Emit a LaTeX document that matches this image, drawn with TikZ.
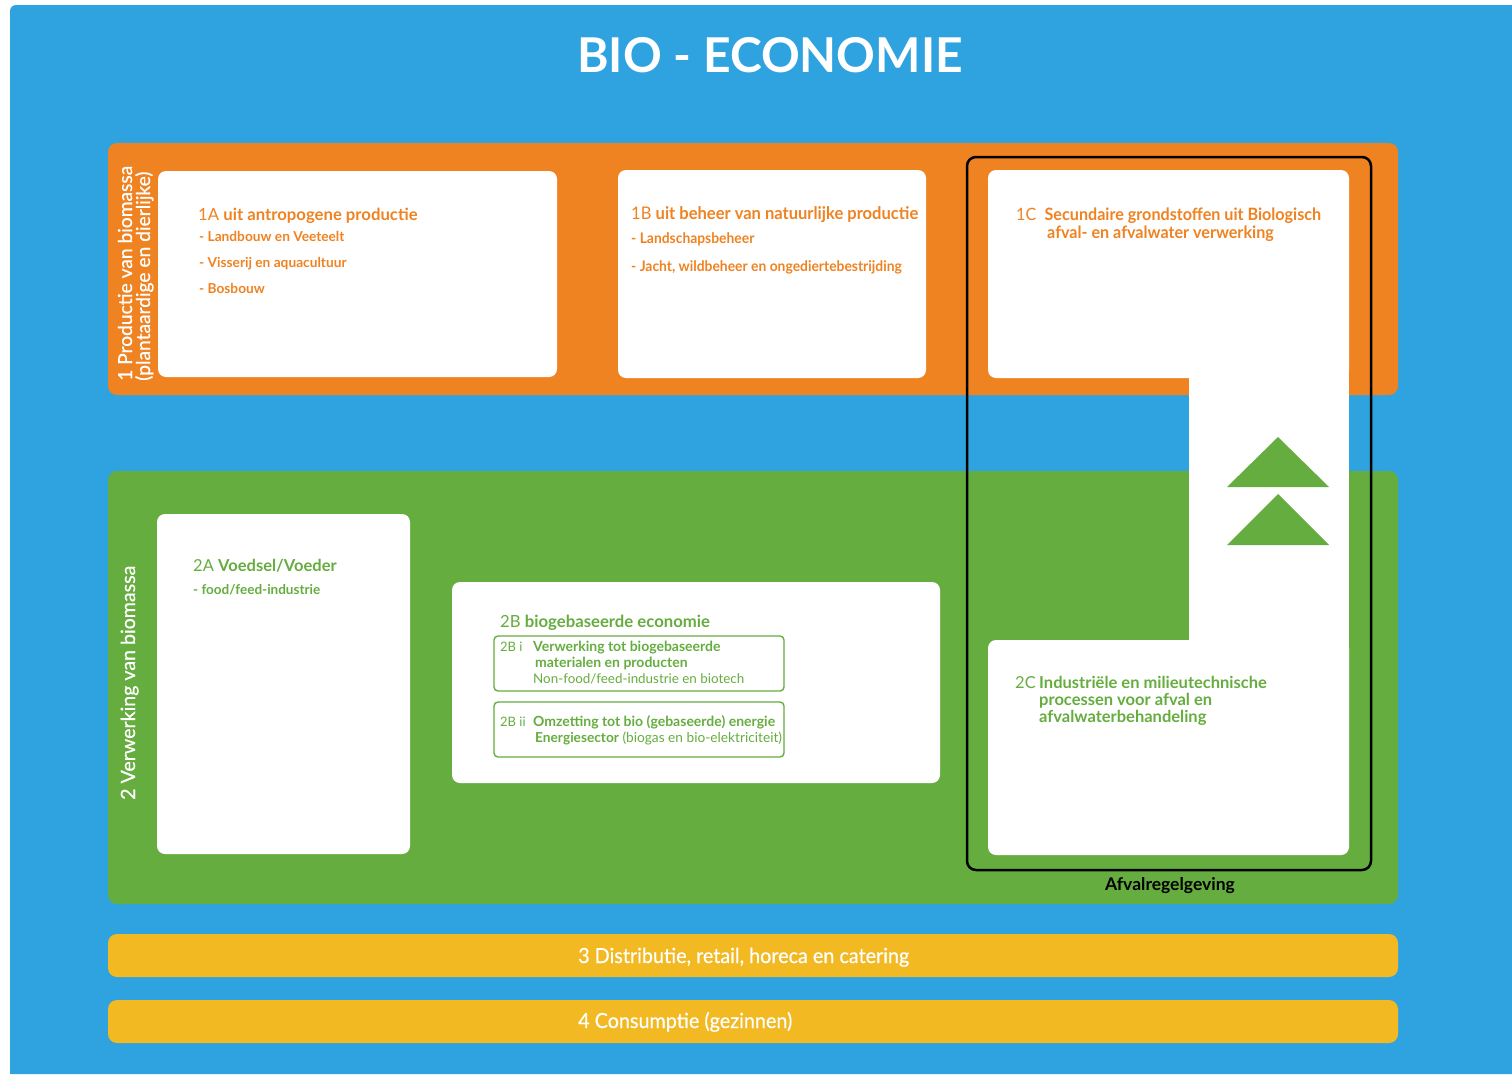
\documentclass[tikz,border=0pt]{standalone}
\usepackage{fontspec}
\setmainfont{Lato}
\newfontfamily\condf[FakeStretch=0.95]{Lato}
\newfontfamily\medf[FakeBold=0.6]{Lato}
\newfontfamily\condmedf[FakeStretch=0.95,FakeBold=0.5]{Lato}
\definecolor{bgblue}{HTML}{2FA3DF}
\definecolor{orng}{HTML}{EF8322}
\definecolor{grn}{HTML}{66AD3F}
\definecolor{ylw}{HTML}{F2B922}
\newcommand\fsz[1]{\fontsize{#1pt}{#1pt}\selectfont}
\tikzset{
  txt/.style={inner sep=0pt, anchor=base west},
  band/.style={rounded corners=9pt},
  whitebox/.style={fill=white, rounded corners=8pt},
  subbox/.style={draw=grn, line width=1.4pt, fill=white, rounded corners=4pt},
  otxt/.style={txt, text=orng},
  gtxt/.style={txt, text=grn},
}
\begin{document}
\begin{tikzpicture}[x=1pt,y=-1pt]
\useasboundingbox (0,0) rectangle (1512,1074);
\fill[white] (0,0) rectangle (1512,1074);
% blue background
\fill[bgblue] (10,1074) [rounded corners=6pt] -- (10,5) [sharp corners] -- (1512,5) -- (1512,1074) -- cycle;
% title
\node[txt, anchor=base, text=white, font=\fsz{48}\bfseries] (title) at (770,72) {BIO - ECONOMIE};
% bands
\fill[orng, band] (108,143) rectangle (1398,395);
\fill[grn, band] (108,471) rectangle (1398,904);
\fill[ylw, band] (108,934) rectangle (1398,977);
\fill[ylw, band] (108,1000) rectangle (1398,1043);
% white boxes
\fill[whitebox] (158,171) rectangle (557,377);
\fill[whitebox] (618,170) rectangle (926,378);
\fill[whitebox] (988,170) rectangle (1349,378);
\fill[white] (1189,370) rectangle (1349,648);
\fill[whitebox] (988,640) rectangle (1349,855);
\fill[whitebox] (157,514) rectangle (410,854);
\fill[whitebox] (452,582) rectangle (940,783);
\draw[subbox] (494,636) rectangle (784,691);
\draw[subbox] (494,702) rectangle (784,757);
% triangles
\fill[grn] (1227,487) -- (1278,437) -- (1329,487) -- cycle;
\fill[grn] (1227,545) -- (1278,494) -- (1329,545) -- cycle;
% black frame
\draw[black, line width=2.5pt, rounded corners=9pt] (967,157) rectangle (1371,870);
\node[txt, anchor=base, font=\fsz{17.5}\bfseries] (afval) at (1170,890) {Afvalregelgeving};
% rotated labels
\node[txt, rotate=90, text=white, font=\medf\fsz{19.2}] (lab1a) at (132,381) {1 Productie van biomassa};
\node[txt, rotate=90, text=white, font=\medf\fsz{19.2}] (lab1b) at (150,381) {(plantaardige en dierlijke)};
\node[txt, rotate=90, text=white, font=\medf\fsz{19.6}] (lab2) at (135,800) {2 Verwerking van biomassa};
% 1A
\node[otxt, font=\fsz{16.7}] (h1a) at (198,220) {1A \textbf{uit antropogene productie}};
\node[otxt, font=\fsz{13.7}\bfseries] (i1a1) at (199,241) {- Landbouw en Veeteelt};
\node[otxt, font=\fsz{13.7}\bfseries] (i1a2) at (199,267) {- Visserij en aquacultuur};
\node[otxt, font=\fsz{13.7}\bfseries] (i1a3) at (199,293) {- Bosbouw};
% 1B
\node[otxt, font=\condf\fsz{17.4}] (h1b) at (631,219) {1B \textbf{uit beheer van natuurlijke productie}};
\node[otxt, font=\condf\fsz{14.6}\bfseries] (i1b1) at (631,243) {- Landschapsbeheer};
\node[otxt, font=\condf\fsz{14.6}\bfseries] (i1b2) at (631,271) {- Jacht, wildbeheer en ongediertebestrijding};
% 1C
\node[otxt, font=\condf\fsz{17}] (h1c) at (1016,220) {1C\ \ \textbf{Secundaire grondstoffen uit Biologisch}};
\node[otxt, font=\condf\fsz{17}\bfseries] (h1c2) at (1047,238) {afval- en afvalwater verwerking};
% 2A
\node[gtxt, font=\fsz{16.5}] (h2a) at (193,571) {2A \textbf{Voedsel/Voeder}};
\node[gtxt, font=\fsz{13.5}\bfseries] (i2a) at (193,594) {- food/feed-industrie};
% 2B
\node[gtxt, font=\fsz{16.7}] (h2b) at (500,627) {2B \textbf{biogebaseerde economie}};
\node[gtxt, font=\fsz{13}] (l2bi) at (500,651) {2B i};
\node[gtxt, font=\fsz{14}\bfseries] (t2bi1) at (533,651) {Verwerking tot biogebaseerde};
\node[gtxt, font=\fsz{14}\bfseries] (t2bi2) at (535,667) {materialen en producten};
\node[gtxt, font=\fsz{13.4}] (t2bi3) at (533,683) {Non-food/feed-industrie en biotech};
\node[gtxt, font=\fsz{13}] (l2bii) at (500,726) {2B ii};
\node[gtxt, font=\fsz{14}\bfseries] (t2bii1) at (533,726) {Omzetting tot bio (gebaseerde) energie};
\node[gtxt, font=\fsz{13.7}] (t2bii2) at (535,742) {\textbf{Energiesector} (biogas en bio-elektriciteit)};
% 2C
\node[gtxt, font=\fsz{16.5}] (l2c) at (1015,688) {2C};
\node[gtxt, font=\fsz{16.5}\bfseries] (t2c1) at (1039,688) {Industriële en milieutechnische};
\node[gtxt, font=\fsz{16.5}\bfseries] (t2c2) at (1039,705) {processen voor afval en};
\node[gtxt, font=\fsz{16.5}\bfseries] (t2c3) at (1039,722) {afvalwaterbehandeling};
% bands 3,4
\node[txt, text=white, font=\condmedf\fsz{20.8}] (b3) at (578,963) {3 Distributie, retail, horeca en catering};
\node[txt, text=white, font=\condmedf\fsz{20.8}] (b4) at (578,1028) {4 Consumptie (gezinnen)};
\end{tikzpicture}
\end{document}
